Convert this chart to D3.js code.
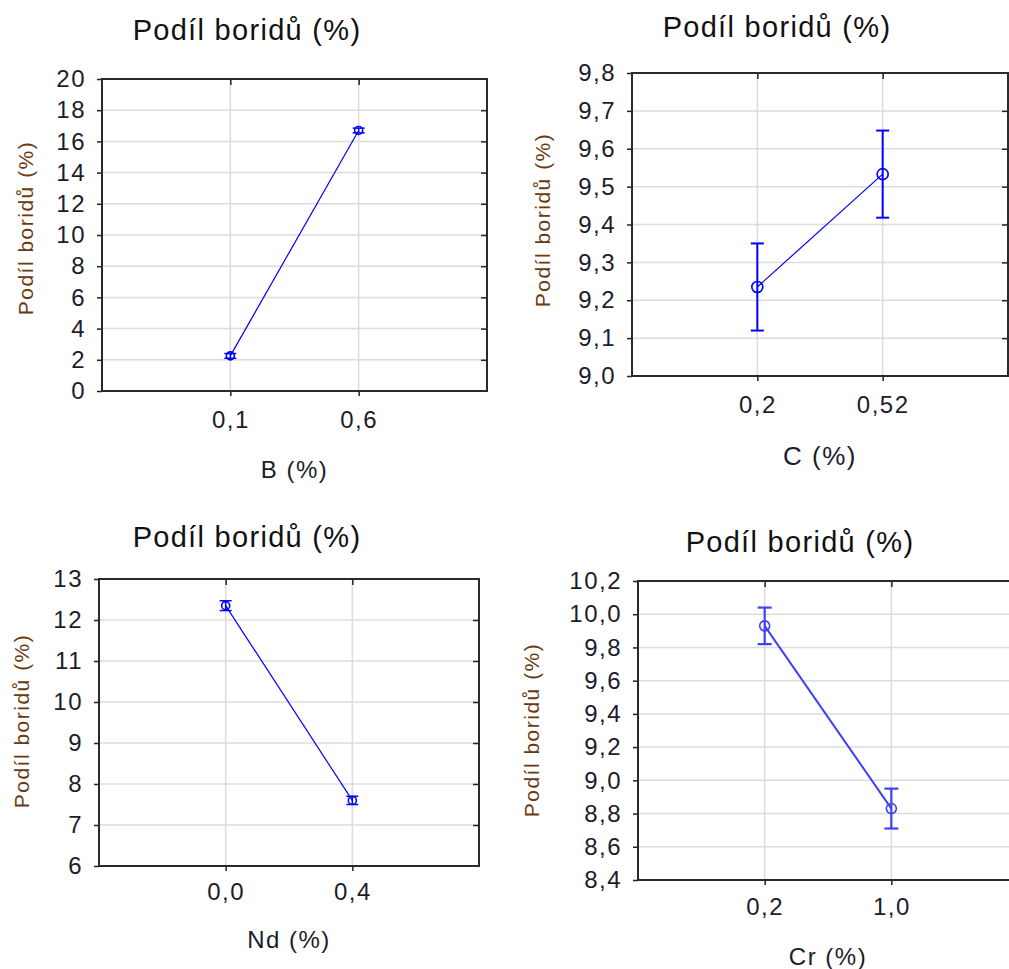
<!DOCTYPE html>
<html lang="cs">
<head>
<meta charset="UTF-8">
<title>Podíl boridů</title>
<script src="https://d3js.org/d3.v7.min.js"></script>
<style>
  body { margin: 0; background: #fff; }
  text { font-family: "Liberation Sans", Arial, sans-serif; }
</style>
</head>
<body>
<script>
// data
var titleText = "Podíl boridů (%)";
var yLabelText = "Podíl boridů  (%)";

var bCats = ["0,1", "0,6"];
var bMeans = [2.25, 16.7];
var bErr = [0.15, 0.15];
var bTicks = [0, 2, 4, 6, 8, 10, 12, 14, 16, 18, 20];

var cCats = ["0,2", "0,52"];
var cMeans = [9.235, 9.533];
var cErr = [0.115, 0.115];
var cTicks = [9.0, 9.1, 9.2, 9.3, 9.4, 9.5, 9.6, 9.7, 9.8];

var ndCats = ["0,0", "0,4"];
var ndMeans = [12.35, 7.6];
var ndErr = [0.12, 0.1];
var ndTicks = [6, 7, 8, 9, 10, 11, 12, 13];

var crCats = ["0,2", "1,0"];
var crMeans = [9.93, 8.83];
var crErr = [0.11, 0.12];
var crTicks = [8.4, 8.6, 8.8, 9.0, 9.2, 9.4, 9.6, 9.8, 10.0, 10.2];

// layout of each panel (pixels)
var panels = [
  {cats: bCats, means: bMeans, err: bErr, ticks: bTicks, fmt: "d", xLabel: "B (%)",
   left: 102, right: 487, top: 79, bottom: 391,
   titleX: 247, titleY: 40, yLabX: 26, yLabY: 228, xLabY: 478, xLabSize: 24, xPad: 15,
   color: "#0000ff", lw: 1.2, r: 4, cap: 6, ew: 1.5},
  {cats: cCats, means: cMeans, err: cErr, ticks: cTicks, fmt: ".1f", xLabel: "C (%)",
   left: 632, right: 1008, top: 73, bottom: 376,
   titleX: 777, titleY: 37, yLabX: 543, yLabY: 220, xLabY: 465, xLabSize: 26, xPad: 15,
   color: "#0000ff", lw: 1.2, r: 5.5, cap: 6.5, ew: 2},
  {cats: ndCats, means: ndMeans, err: ndErr, ticks: ndTicks, fmt: "d", xLabel: "Nd (%)",
   left: 99, right: 479, top: 579, bottom: 866,
   titleX: 247, titleY: 547, yLabX: 22, yLabY: 721, xLabY: 948, xLabSize: 24, xPad: 12,
   color: "#0000ff", lw: 1.2, r: 4, cap: 6, ew: 1.5},
  {cats: crCats, means: crMeans, err: crErr, ticks: crTicks, fmt: ".1f", xLabel: "Cr (%)",
   left: 638, right: 1018, top: 581, bottom: 880,
   titleX: 800, titleY: 552, yLabX: 532, yLabY: 730, xLabY: 965, xLabSize: 24, xPad: 13,
   color: "#4040f4", lw: 2, r: 5, cap: 7, ew: 2.2}
];

var svg = d3.select("body").append("svg")
  .attr("width", 1009)
  .attr("height", 969);

function comma(f) {
  var base = d3.format(f);
  return function (d) { return base(d).replace(".", ","); };
}

panels.forEach(function (p) {
  var idx = p.cats.map(function (c, i) { return i; });
  var x = d3.scaleLinear().domain([-1, 2]).range([p.left, p.right]);
  var y = d3.scaleLinear().domain([p.ticks[0], p.ticks[p.ticks.length - 1]]).range([p.bottom, p.top]);
  var g = svg.append("g");

  // grid
  g.selectAll(".hg").data(p.ticks.slice(1, -1)).enter().append("line")
    .attr("x1", p.left).attr("x2", p.right)
    .attr("y1", function (d) { return y(d); }).attr("y2", function (d) { return y(d); })
    .attr("stroke", "#dcdcdc").attr("stroke-width", 1.5);
  g.selectAll(".vg").data(idx).enter().append("line")
    .attr("x1", function (d) { return x(d); }).attr("x2", function (d) { return x(d); })
    .attr("y1", p.top).attr("y2", p.bottom)
    .attr("stroke", "#dcdcdc").attr("stroke-width", 1.5);

  // axes
  var yAxis = g.append("g").attr("transform", "translate(" + p.left + ",0)")
    .call(d3.axisLeft(y).tickValues(p.ticks).tickSize(5).tickPadding(11).tickFormat(comma(p.fmt)));
  var xAxis = g.append("g").attr("transform", "translate(0," + p.bottom + ")")
    .call(d3.axisBottom(x).tickValues(idx).tickSize(5).tickPadding(p.xPad)
      .tickFormat(function (d) { return p.cats[d]; }));
  g.append("g").attr("transform", "translate(" + p.right + ",0)")
    .call(d3.axisLeft(y).tickValues(p.ticks.slice(1, -1)).tickSize(6).tickFormat(""));
  g.append("g").attr("transform", "translate(0," + p.top + ")")
    .call(d3.axisBottom(x).tickValues(idx).tickSize(6).tickFormat(""));

  g.selectAll(".domain").remove();
  g.selectAll(".tick line").attr("stroke", "#222").attr("stroke-width", 1.5);
  [yAxis, xAxis].forEach(function (a) {
    a.selectAll("text").attr("font-size", 24).attr("fill", "#1c1c2c")
      .style("letter-spacing", "1.5px");
  });

  // frame
  g.append("rect")
    .attr("x", p.left).attr("y", p.top)
    .attr("width", p.right - p.left).attr("height", p.bottom - p.top)
    .attr("fill", "none").attr("stroke", "#2a2a2a").attr("stroke-width", 2);

  // titles
  g.append("text").attr("x", p.titleX).attr("y", p.titleY)
    .attr("text-anchor", "middle").attr("font-size", 29).attr("fill", "#111")
    .style("letter-spacing", "1.3px").text(titleText);
  g.append("text").attr("transform", "translate(" + p.yLabX + "," + p.yLabY + ") rotate(-90)")
    .attr("text-anchor", "middle").attr("dy", "0.35em")
    .attr("font-size", 21).attr("fill", "#6a3a10")
    .style("letter-spacing", "1.5px").text(yLabelText);
  g.append("text").attr("x", (x(0) + x(1)) / 2).attr("y", p.xLabY)
    .attr("text-anchor", "middle").attr("font-size", p.xLabSize).attr("fill", "#1c1c2c")
    .style("letter-spacing", "1.5px").text(p.xLabel);

  // mean line, error bars, markers
  var line = d3.line().x(function (d) { return x(d); }).y(function (d) { return y(p.means[d]); });
  g.append("path").datum(idx).attr("d", line)
    .attr("fill", "none").attr("stroke", p.color).attr("stroke-width", p.lw);

  var eb = g.selectAll(".eb").data(idx).enter().append("g").attr("stroke", p.color)
    .attr("stroke-width", p.ew).attr("fill", "none");
  eb.append("line")
    .attr("x1", function (d) { return x(d); }).attr("x2", function (d) { return x(d); })
    .attr("y1", function (d) { return y(p.means[d] - p.err[d]); })
    .attr("y2", function (d) { return y(p.means[d] + p.err[d]); });
  eb.append("line")
    .attr("x1", function (d) { return x(d) - p.cap; }).attr("x2", function (d) { return x(d) + p.cap; })
    .attr("y1", function (d) { return y(p.means[d] + p.err[d]); })
    .attr("y2", function (d) { return y(p.means[d] + p.err[d]); });
  eb.append("line")
    .attr("x1", function (d) { return x(d) - p.cap; }).attr("x2", function (d) { return x(d) + p.cap; })
    .attr("y1", function (d) { return y(p.means[d] - p.err[d]); })
    .attr("y2", function (d) { return y(p.means[d] - p.err[d]); });
  eb.append("circle")
    .attr("cx", function (d) { return x(d); })
    .attr("cy", function (d) { return y(p.means[d]); })
    .attr("r", p.r).attr("stroke-width", 1.6);
});
</script>
</body>
</html>
